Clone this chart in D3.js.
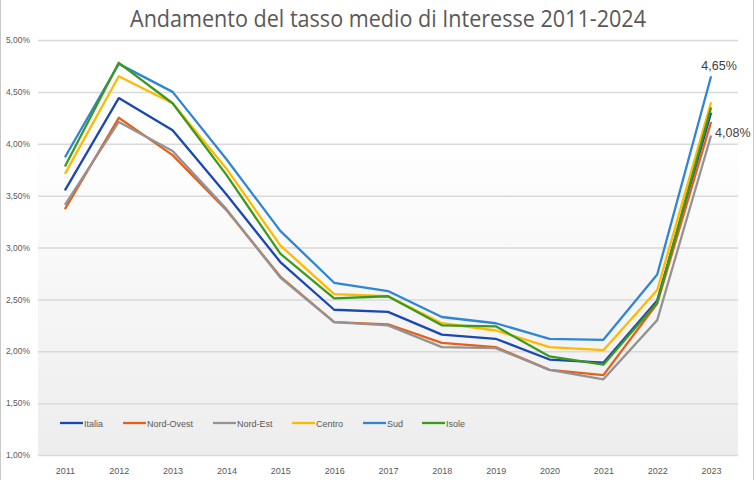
<html>
<head>
<meta charset="utf-8">
<script src="https://cdnjs.cloudflare.com/ajax/libs/d3/7.8.5/d3.min.js"></script>
<style>
  body { margin: 0; background: #fff; }
  text { font-family: "Liberation Sans", Arial, sans-serif; }
</style>
</head>
<body>
<div id="chartContainer"></div>
<script>
// Years and series (values in %)
var years = ["2011","2012","2013","2014","2015","2016","2017","2018","2019","2020","2021","2022","2023"];
var italia    = [3.55, 4.44, 4.13, 3.51, 2.86, 2.40, 2.38, 2.16, 2.12, 1.92, 1.89, 2.49, 4.30];
var nordOvest = [3.37, 4.25, 3.89, 3.36, 2.72, 2.28, 2.26, 2.08, 2.04, 1.82, 1.77, 2.46, 4.21];
var nordEst   = [3.41, 4.21, 3.93, 3.37, 2.71, 2.28, 2.25, 2.04, 2.03, 1.82, 1.73, 2.30, 4.08];
var centro    = [3.71, 4.65, 4.39, 3.76, 3.02, 2.55, 2.53, 2.27, 2.20, 2.04, 2.01, 2.59, 4.40];
var sud       = [3.87, 4.77, 4.50, 3.85, 3.16, 2.66, 2.58, 2.33, 2.27, 2.12, 2.11, 2.74, 4.65];
var isole     = [3.78, 4.78, 4.39, 3.70, 2.94, 2.51, 2.53, 2.25, 2.24, 1.95, 1.87, 2.47, 4.35];
var yTicks = [1, 1.5, 2, 2.5, 3, 3.5, 4, 4.5, 5];

var series = [
  { name: "Italia",     values: italia,    color: "#1a47b0" },
  { name: "Nord-Ovest", values: nordOvest, color: "#e5601b" },
  { name: "Nord-Est",   values: nordEst,   color: "#939393" },
  { name: "Centro",     values: centro,    color: "#ffb900" },
  { name: "Sud",        values: sud,       color: "#2e86d4" },
  { name: "Isole",      values: isole,     color: "#3b9a1d" }
];

var W = 756, H = 480;
var svg = d3.select("#chartContainer").append("svg").attr("width", W).attr("height", H);

var x = d3.scalePoint().domain(years).range([38, 738]).padding(0.5);
var y = d3.scaleLinear().domain([1, 5]).range([455, 40]);
var fmt = function (v) { return d3.format(".2f")(v).replace(".", ",") + "%"; };

// plot area gradient
var grad = svg.append("defs").append("linearGradient").attr("id", "bg")
  .attr("x1", 0).attr("y1", 0).attr("x2", 0).attr("y2", 1);
grad.append("stop").attr("offset", "0%").attr("stop-color", "#ffffff");
grad.append("stop").attr("offset", "22%").attr("stop-color", "#ffffff");
grad.append("stop").attr("offset", "100%").attr("stop-color", "#ededed");
svg.append("rect").attr("x", 38).attr("y", y(5)).attr("width", 700).attr("height", y(1) - y(5))
  .attr("fill", "url(#bg)");

// outer border
svg.append("line").attr("x1", 0.5).attr("x2", 0.5).attr("y1", 0).attr("y2", H).attr("stroke", "#c8c8c8");
svg.append("line").attr("x1", 753.5).attr("x2", 753.5).attr("y1", 0).attr("y2", H).attr("stroke", "#c8c8c8");

// title
svg.append("text").attr("x", 388).attr("y", 27).attr("text-anchor", "middle")
  .attr("textLength", 516).attr("lengthAdjust", "spacingAndGlyphs")
  .style("font-family", "'Open Sans', 'Liberation Sans', sans-serif")
  .style("font-size", "23px").style("fill", "#595959")
  .text("Andamento del tasso medio di Interesse 2011-2024");

// y axis (gridlines + labels)
var yAxis = svg.append("g").attr("transform", "translate(38,0)")
  .call(d3.axisLeft(y).tickValues(yTicks).tickFormat(fmt).tickSize(-700).tickPadding(8));
yAxis.select(".domain").remove();
yAxis.selectAll(".tick line").attr("stroke", "#d9d9d9").attr("stroke-width", 1.5);
yAxis.selectAll(".tick text").style("font-size", "8.5px").style("fill", "#595959")
  .style("font-family", "'Liberation Sans Narrow', 'Liberation Sans', sans-serif");

// x axis labels
var xAxis = svg.append("g").attr("transform", "translate(0,459)")
  .call(d3.axisBottom(x).tickSize(0).tickPadding(9));
xAxis.select(".domain").remove();
xAxis.selectAll(".tick text").style("font-size", "9px").style("fill", "#595959")
  .style("font-family", "'Liberation Sans Narrow', 'Liberation Sans', sans-serif");

// lines
var line = d3.line().x(function (d, i) { return x(years[i]); }).y(function (d) { return y(d); });
svg.append("g").selectAll("path").data(series).enter().append("path")
  .attr("d", function (s) { return line(s.values); })
  .attr("fill", "none").attr("stroke", function (s) { return s.color; })
  .attr("stroke-width", 2.3).attr("stroke-linejoin", "round");

// data labels on last point
var last = years.length - 1;
svg.append("text").attr("x", x(years[last]) + 8).attr("y", y(sud[last]) - 6)
  .attr("text-anchor", "middle").style("font-size", "12.5px").style("fill", "#404040")
  .text(fmt(sud[last]));
svg.append("text").attr("x", x(years[last]) + 4).attr("y", y(nordEst[last]) + 2)
  .style("font-size", "12.5px").style("fill", "#404040")
  .text(fmt(nordEst[last]));

// legend
var legendX = [60, 123, 213, 292, 363, 422];
var lg = svg.append("g").selectAll("g").data(series).enter().append("g")
  .attr("transform", function (s, i) { return "translate(" + legendX[i] + ",423)"; });
lg.append("line").attr("x1", 0).attr("x2", 23).attr("stroke", function (s) { return s.color; })
  .attr("stroke-width", 2.3);
lg.append("text").attr("x", 24).attr("y", 3.5).style("font-size", "9px").style("fill", "#595959")
  .style("font-family", "'Liberation Sans Narrow', 'Liberation Sans', sans-serif")
  .text(function (s) { return s.name; });
</script>
</body>
</html>
